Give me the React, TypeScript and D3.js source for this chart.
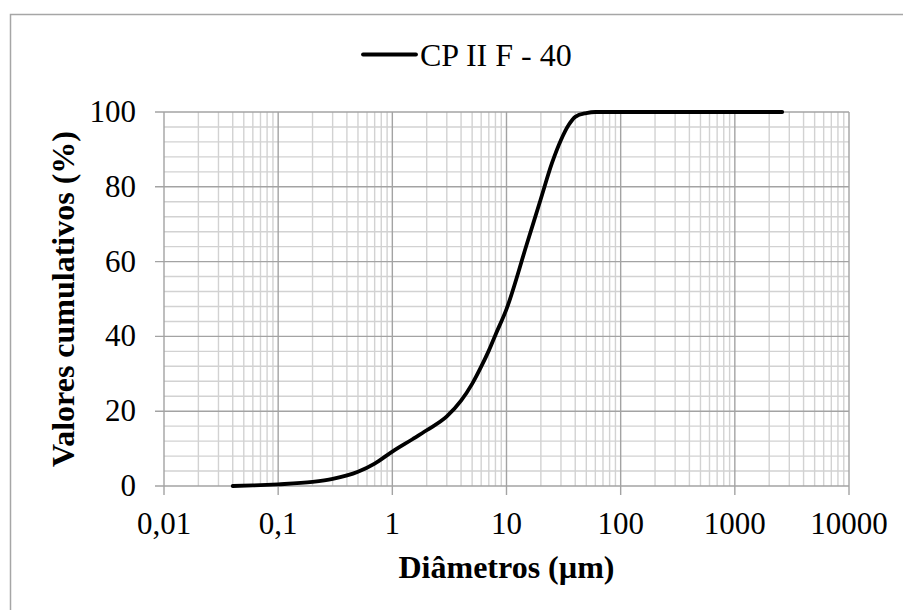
import React from "react";
import * as d3 from "d3";

const diameters = [0.04, 0.06, 0.1, 0.2, 0.3, 0.5, 0.7, 1, 1.5, 2, 3, 4, 5, 6, 7, 8, 10, 15, 20, 25, 30, 35, 40, 50, 60, 100, 2600];
const cumulative = [0, 0.15, 0.45, 1.1, 1.9, 3.8, 6.0, 9.2, 12.5, 14.9, 18.6, 22.8, 27.3, 31.9, 36.2, 40.4, 47.3, 64.5, 76.8, 86.3, 92.5, 96.5, 98.7, 99.7, 100, 100, 100];
const xTickValues = [0.01, 0.1, 1, 10, 100, 1000, 10000];
const xTickLabels = ["0,01", "0,1", "1", "10", "100", "1000", "10000"];
const yTickValues = [0, 20, 40, 60, 80, 100];
const seriesName = "CP II F - 40";
const xTitle = "Diâmetros (µm)";
const yTitle = "Valores cumulativos (%)";

const W = 903;
const H = 610;
const left = 164, right = 849, top = 112, bottom = 486;

export default function App() {
  const x = d3.scaleLog().domain([0.01, 10000]).range([left, right]);
  const y = d3.scaleLinear().domain([0, 100]).range([bottom, top]);

  const minorX: number[] = [];
  for (let e = -2; e < 4; e++) {
    for (let k = 2; k <= 9; k++) minorX.push(k * Math.pow(10, e));
  }
  const minorY: number[] = [];
  for (let v = 0; v <= 100; v += 4) if (v % 20 !== 0) minorY.push(v);

  const pts = diameters.map((d, i) => [d, cumulative[i]] as [number, number]);
  const line = d3
    .line<[number, number]>()
    .x((d) => x(d[0]))
    .y((d) => y(d[1]))
    .curve(d3.curveMonotoneX);

  const font = "'Liberation Serif', 'Times New Roman', serif";
  const minorC = "#d2d2d2";
  const majorC = "#a3a3a3";
  const fs = 31;

  return (
    <svg width={W} height={H} style={{ position: "absolute", left: 0, top: 0, background: "#fff" }} fontFamily={font}>
      <rect x={0} y={0} width={W} height={H} fill="#fff" />
      <rect x={10.5} y={14.5} width={1200} height={1200} fill="none" stroke="#a6a6a6" strokeWidth={1.5} />
      {minorX.map((v) => (
        <line key={"mx" + v} x1={x(v)} x2={x(v)} y1={top} y2={bottom} stroke={minorC} strokeWidth={1.4} />
      ))}
      {minorY.map((v) => (
        <line key={"my" + v} x1={left} x2={right} y1={y(v)} y2={y(v)} stroke={minorC} strokeWidth={1.4} />
      ))}
      {xTickValues.map((v) => (
        <line key={"Mx" + v} x1={x(v)} x2={x(v)} y1={top} y2={bottom + 9} stroke={majorC} strokeWidth={1.4} />
      ))}
      {yTickValues.map((v) => (
        <line key={"My" + v} x1={left - 9} x2={right} y1={y(v)} y2={y(v)} stroke={majorC} strokeWidth={1.4} />
      ))}
      <path d={line(pts) || ""} fill="none" stroke="#000" strokeWidth={3.8} strokeLinecap="round" strokeLinejoin="round" />
      {yTickValues.map((v) => (
        <text key={"yl" + v} x={136} y={y(v) + 10} textAnchor="end" fontSize={fs} fill="#000">
          {v}
        </text>
      ))}
      {xTickValues.map((v, i) => (
        <text key={"xl" + v} x={x(v)} y={534} textAnchor="middle" fontSize={fs} fill="#000">
          {xTickLabels[i]}
        </text>
      ))}
      <text x={(left + right) / 2} y={578} textAnchor="middle" fontSize={32} fontWeight="bold" fill="#000">
        {xTitle}
      </text>
      <text
        transform={`translate(74, ${(top + bottom) / 2}) rotate(-90)`}
        textAnchor="middle"
        fontSize={32}
        fontWeight="bold"
        fill="#000"
      >
        {yTitle}
      </text>
      <line x1={363} x2={416} y1={54.5} y2={54.5} stroke="#000" strokeWidth={3.8} strokeLinecap="round" />
      <text x={420} y={66} fontSize={32} fill="#000">
        {seriesName}
      </text>
    </svg>
  );
}
